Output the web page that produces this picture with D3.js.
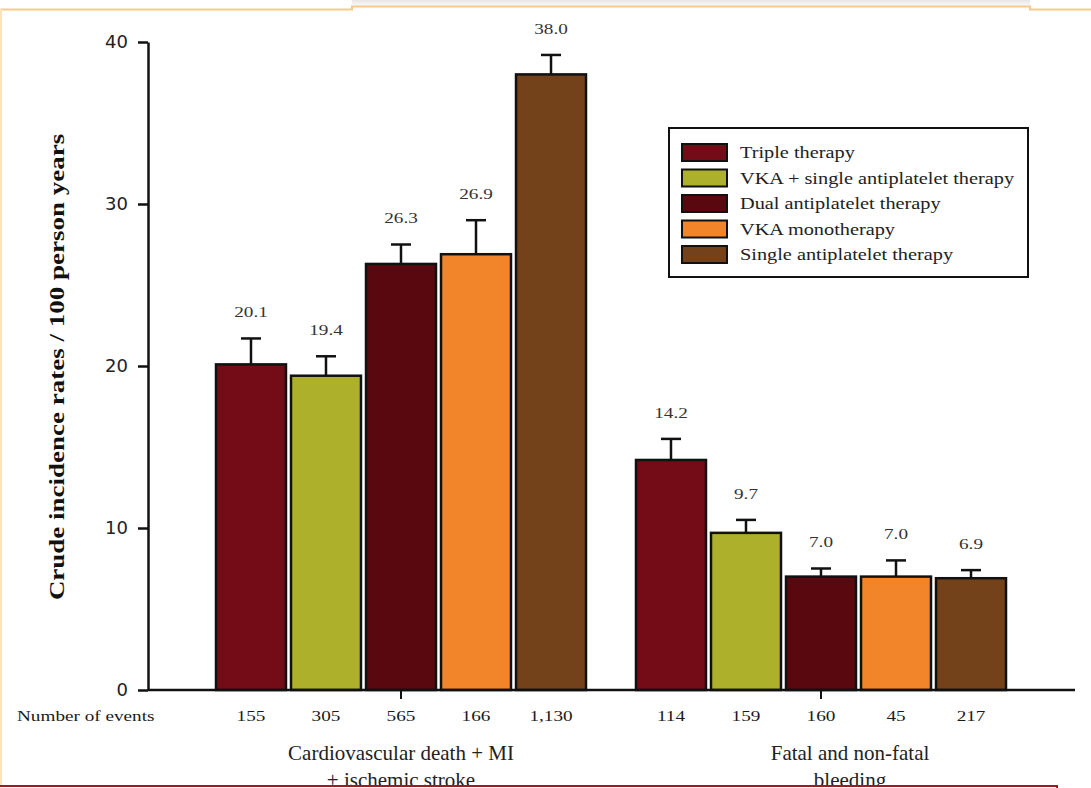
<!DOCTYPE html>
<html>
<head>
<meta charset="utf-8">
<script src="https://cdn.jsdelivr.net/npm/d3@7"></script>
<style>
  html, body { margin: 0; padding: 0; background: #fff; overflow: hidden; }
  svg { display: block; }
</style>
</head>
<body>
<div id="chart"></div>
<script>
// data
const groups = ['Cardiovascular death + MI|+ ischemic stroke', 'Fatal and non-fatal|bleeding'];
const series = ['Triple therapy', 'VKA + single antiplatelet therapy', 'Dual antiplatelet therapy',
  'VKA monotherapy', 'Single antiplatelet therapy'];
const colors = ['#730c17', '#adb02a', '#5a0810', '#f2852a', '#73421a'];
const rates = [
  [20.1, 19.4, 26.3, 26.9, 38.0],
  [14.2, 9.7, 7.0, 7.0, 6.9]
];
const upper = [
  [21.7, 20.6, 27.5, 29.0, 39.2],
  [15.5, 10.5, 7.5, 8.0, 7.4]
];
const events = [
  ['155', '305', '565', '166', '1,130'],
  ['114', '159', '160', '45', '217']
];
const yTicks = [0, 10, 20, 30, 40];

const W = 1091, H = 788;
const serif = '"Liberation Serif", "Times New Roman", serif';
const sans = '"DejaVu Sans", Arial, sans-serif';

const svg = d3.select('#chart').append('svg')
  .attr('width', W).attr('height', H);

// the serif text in the figure is stretched sideways
function label(parent, x, y, txt, size, sx, anchor, weight) {
  return parent.append('text')
    .attr('transform', `translate(${x},${y}) scale(${sx},1)`)
    .attr('text-anchor', anchor || 'start').attr('dominant-baseline', 'central')
    .style('font-family', serif).style('font-size', size + 'px')
    .style('font-weight', weight || 'normal')
    .attr('fill', '#1a1a1a')
    .text(txt);
}

// page frame bits around the figure
const defs = svg.append('defs');
const shade = defs.append('linearGradient').attr('id', 'shade')
  .attr('x1', 0).attr('x2', 0).attr('y1', 0).attr('y2', 1);
shade.append('stop').attr('offset', 0).attr('stop-color', '#e6e6e6');
shade.append('stop').attr('offset', 1).attr('stop-color', '#fafafa');
svg.append('rect').attr('x', 352).attr('y', 0).attr('width', 678).attr('height', 6)
  .attr('fill', 'url(#shade)');
svg.append('path')
  .attr('d', 'M0,9.5H352V6.5H1030V9.5H1091')
  .attr('fill', 'none').attr('stroke', '#f7c98a').attr('stroke-width', 2);
svg.append('line').attr('x1', 1).attr('x2', 1).attr('y1', 9).attr('y2', H)
  .attr('stroke', '#fbe3bd').attr('stroke-width', 2);

const y = d3.scaleLinear().domain([0, 40]).range([690, 42]);
const x0 = d3.scaleBand().domain(groups).range([191, 1031]);
const x1 = d3.scaleBand().domain(series).range([25, 395]).paddingInner(0.067);

// bars
const g = svg.append('g');
groups.forEach((grp, gi) => {
  const gg = g.append('g').attr('transform', `translate(${x0(grp)},0)`);
  series.forEach((s, si) => {
    const bx = x1(s), bw = x1.bandwidth(), cx = bx + bw / 2;
    // error bar (upper only)
    gg.append('line').attr('x1', cx).attr('x2', cx)
      .attr('y1', y(rates[gi][si])).attr('y2', y(upper[gi][si]))
      .attr('stroke', '#111').attr('stroke-width', 2.5);
    gg.append('line').attr('x1', cx - 10).attr('x2', cx + 10)
      .attr('y1', y(upper[gi][si])).attr('y2', y(upper[gi][si]))
      .attr('stroke', '#111').attr('stroke-width', 2.5);
    gg.append('rect')
      .attr('x', bx).attr('width', bw)
      .attr('y', y(rates[gi][si])).attr('height', y(0) - y(rates[gi][si]))
      .attr('fill', colors[si]).attr('stroke', '#111').attr('stroke-width', 2.5);
    label(gg, cx, y(upper[gi][si]) - 26, rates[gi][si].toFixed(1), 15, 1.28, 'middle')
      .attr('fill', '#333');
    label(gg, cx, 716, events[gi][si], 15, 1.28, 'middle');
  });
});

// y axis
const yAxis = svg.append('g')
  .attr('transform', 'translate(148,0)')
  .call(d3.axisLeft(y).tickValues(yTicks).tickSize(10).tickSizeOuter(0).tickPadding(10));
yAxis.select('.domain').attr('stroke', '#111').attr('stroke-width', 2.5);
yAxis.selectAll('.tick line').attr('stroke', '#111').attr('stroke-width', 2.5);
yAxis.selectAll('.tick text')
  .style('font-family', sans).style('font-size', '18px').attr('fill', '#222');

// x axis
svg.append('line').attr('x1', 148).attr('x2', 1075).attr('y1', 690).attr('y2', 690)
  .attr('stroke', '#111').attr('stroke-width', 2.5);
const xAxis = svg.append('g')
  .attr('transform', 'translate(0,690)')
  .call(d3.axisBottom(x0).tickSize(9).tickFormat(''));
xAxis.select('.domain').remove();
xAxis.selectAll('.tick line').attr('stroke', '#111').attr('stroke-width', 2);

label(svg, 17, 716, 'Number of events', 15, 1.28);

// group labels (second line partly hidden by the page edge, as in the figure)
const groupLabelX = [401, 850];
groups.forEach((grp, gi) => {
  grp.split('|').forEach((line, li) => {
    label(svg, groupLabelX[gi], 753 + li * 27, line, 21, 1.0, 'middle').attr('fill', '#222');
  });
});

// y title
svg.append('text')
  .attr('transform', 'translate(57,367) rotate(-90) scale(1.35,1)')
  .attr('text-anchor', 'middle').attr('dominant-baseline', 'central')
  .style('font-family', serif).style('font-size', '20px').style('font-weight', 'bold')
  .attr('fill', '#111')
  .text('Crude incidence rates / 100 person years');

// legend
const lg = svg.append('g').attr('transform', 'translate(669,128)');
lg.append('rect').attr('width', 359).attr('height', 149)
  .attr('fill', '#fff').attr('stroke', '#111').attr('stroke-width', 2);
series.forEach((s, i) => {
  const row = lg.append('g').attr('transform', `translate(13,${16 + i * 25.5})`);
  row.append('rect').attr('width', 45).attr('height', 17)
    .attr('fill', colors[i]).attr('stroke', '#111').attr('stroke-width', 2);
  label(row, 58, 9, s, 16, 1.27).attr('fill', '#222');
});

// bottom page edge box
svg.append('rect').attr('x', -5).attr('y', 786).attr('width', 1062).attr('height', 20)
  .attr('fill', '#fff').attr('stroke', '#9b1c1c').attr('stroke-width', 2);
</script>
</body>
</html>
